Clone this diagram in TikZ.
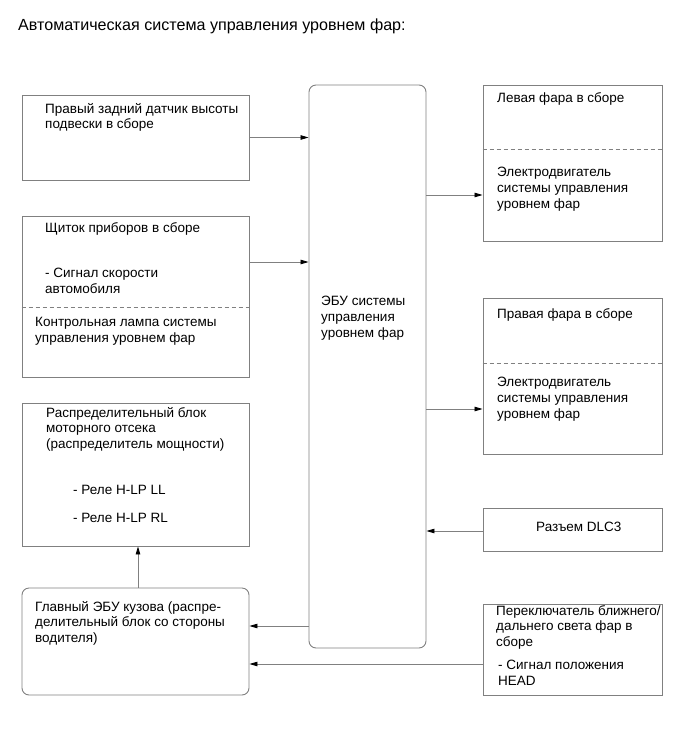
\documentclass[tikz,border=0pt]{standalone}
\usepackage{fontspec}
\setmainfont{Liberation Sans}
\usetikzlibrary{arrows.meta,positioning}
\definecolor{linegray}{RGB}{128,128,128}
\tikzset{
  blk/.style={draw=linegray, line width=0.9pt, inner sep=0pt},
  rblk/.style={blk, rounded corners=7pt},
  lbl/.style={anchor=north west, align=left, inner sep=0pt, yshift=11.06pt,
    font=\fontsize{13.5}{15.8}\selectfont, execute at begin node=\strut},
  sep/.style={draw=linegray, line width=0.8pt, dash pattern=on 4pt off 3pt},
  arr/.style={draw=linegray, line width=0.8pt,
    -{Triangle[length=8pt,width=4.5pt,color=black]}}
}
\begin{document}
\begin{tikzpicture}[x=1pt,y=-1pt]
\useasboundingbox (0,0) rectangle (690,756);

% Title
\node (title) [anchor=base west, inner sep=0pt, font=\fontsize{16.1}{19}\selectfont]
  at (18,30) {Автоматическая система управления уровнем фар:};

% Left column
\node (sensor) [blk, minimum width=227, minimum height=85] at (135.5,137.5) {};
\node (meter) [blk, minimum width=227, minimum height=161] at (135.5,296.5) {};
\node (pdb) [blk, minimum width=227, minimum height=143] at (135.5,474.5) {};
\node (body) [rblk, minimum width=227, minimum height=107] at (135.5,641.5) {};

% Control unit
\node (ecu) [rblk, minimum width=117, minimum height=563] at (367.5,366.5) {};

% Right column
\node (lhl) [blk, minimum width=179, minimum height=156] at (572.5,163) {};
\node (rhl) [blk, minimum width=179, minimum height=156] at (572.5,376) {};
\node (dlc) [blk, minimum width=179, minimum height=43] at (572.5,529.5) {};
\node (sw) [blk, minimum width=179, minimum height=91] at (572.5,649.5) {};

% Dashed separators
\coordinate (ysep1) at (0,307);
\coordinate (ysep2) at (0,149);
\coordinate (ysep3) at (0,363);
\draw[sep] (meter.west |- ysep1) -- (meter.east |- ysep1);
\draw[sep] (lhl.west |- ysep2) -- (lhl.east |- ysep2);
\draw[sep] (rhl.west |- ysep3) -- (rhl.east |- ysep3);

% Labels
\node (sensorlbl) [lbl] at (45,114) {Правый задний датчик высоты\\подвески в сборе};
\node (meterlbl) [lbl] at (45,232) {Щиток приборов в сборе};
\node (speedlbl) [lbl] at (45,279) {- Сигнал скорости\\автомобиля};
\node (lamplbl) [lbl] at (35,328) {Контрольная лампа системы\\управления уровнем фар};
\node (pdblbl) [lbl] at (46,418) {Распределительный блок\\моторного отсека\\(распределитель мощности)};
\node (relay1) [lbl] at (73,494) {- Реле H-LP LL};
\node (relay2) [lbl] at (73,522) {- Реле H-LP RL};
\node (bodylbl) [lbl] at (35,612) {Главный ЭБУ кузова (распре-\\делительный блок со стороны\\водителя)};
\node (eculbl) [lbl] at (321,307) {ЭБУ системы\\управления\\уровнем фар};
\node (lhllbl) [lbl] at (497,102) {Левая фара в сборе};
\node (lmotor) [lbl] at (497,178) {Электродвигатель\\системы управления\\уровнем фар};
\node (rhllbl) [lbl] at (497,318) {Правая фара в сборе};
\node (rmotor) [lbl] at (497,388) {Электродвигатель\\системы управления\\уровнем фар};
\node (dlclbl) [lbl] at (536,531) {Разъем DLC3};
\node (swlbl) [lbl] at (496,616) {Переключатель ближнего/\\дальнего света фар в\\сборе};
\node (headlbl) [lbl] at (498,671) {- Сигнал положения\\HEAD};

% Connectors
\coordinate (ymeter) at (0,262);
\coordinate (ylhl) at (0,195);
\coordinate (yrhl) at (0,409);
\coordinate (ydlc) at (0,531);
\coordinate (ybody) at (0,626);
\coordinate (ysw) at (0,664);
\coordinate (xup) at (138,0);
\draw[arr] (sensor.east) -- (sensor.east -| ecu.west);
\draw[arr] (meter.east |- ymeter) -- (ecu.west |- ymeter);
\draw[arr] (ecu.east |- ylhl) -- (lhl.west |- ylhl);
\draw[arr] (ecu.east |- yrhl) -- (rhl.west |- yrhl);
\draw[arr] (dlc.west |- ydlc) -- (ecu.east |- ydlc);
\draw[arr] (ecu.west |- ybody) -- (body.east |- ybody);
\draw[arr] (sw.west |- ysw) -- (body.east |- ysw);
\draw[arr] (body.north -| xup) -- (pdb.south -| xup);

\end{tikzpicture}
\end{document}
